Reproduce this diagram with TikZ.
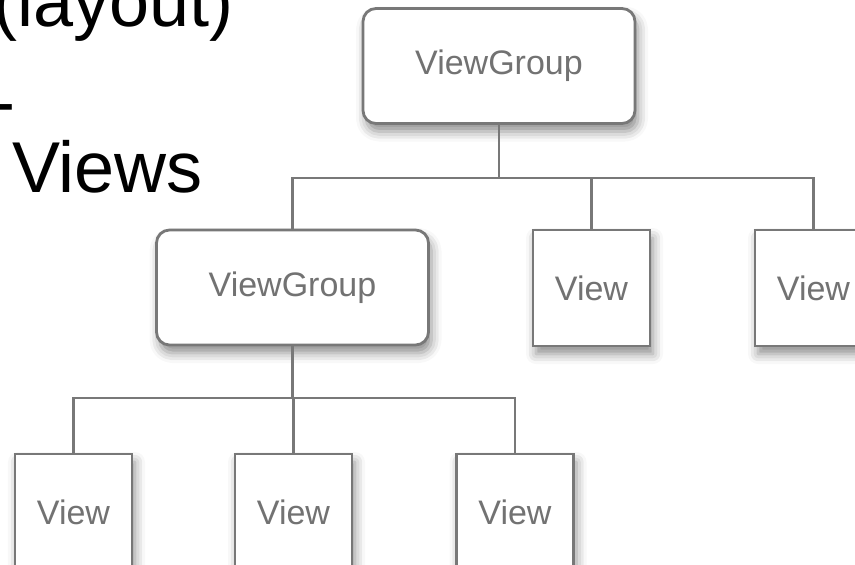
\documentclass[tikz,border=0pt]{standalone}
\usepackage{fontspec}
\setmainfont{Liberation Sans}
\usetikzlibrary{shadows.blur}

\definecolor{edgegray}{HTML}{787878}
\definecolor{labelgray}{HTML}{727272}

\tikzset{
  box/.style={
    draw=edgegray, line width=2.8pt, fill=white, inner sep=0pt,
    text=labelgray, font=\fontsize{34}{40}\selectfont,
    blur shadow={shadow xshift=3pt, shadow yshift=-8pt,
                 shadow blur radius=10pt, shadow opacity=45}
  },
  groupbox/.style={box, rounded corners=13pt,
    minimum width=272pt, minimum height=115pt},
  leafbox/.style={box, minimum width=117pt, minimum height=116pt},
  link/.style={draw=edgegray, line width=2.5pt},
  bigtext/.style={font=\fontsize{72}{80}\selectfont, text=black,
    inner sep=0pt, anchor=base west}
}

\begin{document}
\begin{tikzpicture}[x=1pt, y=-1pt]
  \useasboundingbox (0,0) rectangle (855,565);

  % slide text on the left
  \node[bigtext] (layout) at (-7,26) {(layout)};
  \node[bigtext] (dash) at (-9,126) {-};
  \node[bigtext] (views) at (12,192) {Views};

  % junction points of the tree
  \coordinate (bar1) at (499,178);
  \coordinate (bar2) at (292.5,398);

  % the view hierarchy
  \node[groupbox] (root) at (499,66) {ViewGroup};
  \node[groupbox] (group) at (292.5,287.5) {ViewGroup};
  \node[leafbox] (viewa) at (591.5,288) {View};
  \node[leafbox] (viewb) at (813.5,288) {View};
  \node[leafbox] (viewc) at (73.5,512) {View};
  \node[leafbox] (viewd) at (293.5,512) {View};
  \node[leafbox] (viewe) at (515,512) {View};

  % connectors
  \path[link] (root.south) -- (bar1) -| (group.north);
  \path[link] (bar1) -| (viewa.north);
  \path[link] (bar1) -| (viewb.north);

  \path[link] (group.south) -- (bar2) -| (viewc.north);
  \path[link] (bar2) -| (viewd.north);
  \path[link] (bar2) -| (viewe.north);
\end{tikzpicture}
\end{document}
